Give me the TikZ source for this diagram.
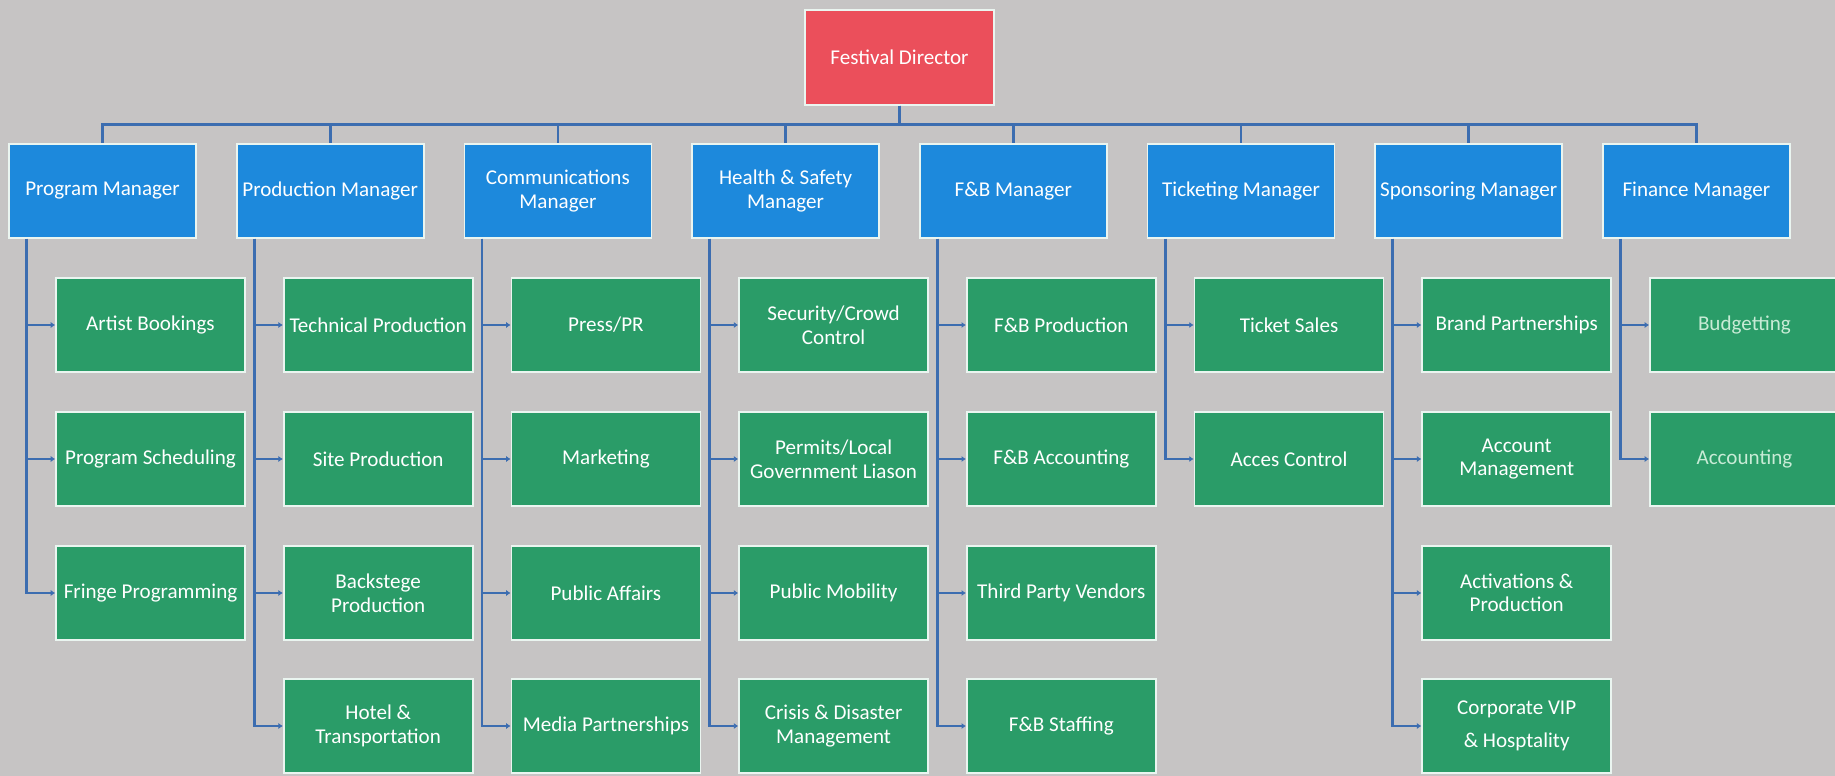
\documentclass[tikz,border=0pt]{standalone}
\usepackage{fontspec}
\setmainfont{Carlito}
\usetikzlibrary{arrows.meta}
\definecolor{bgray}{HTML}{C6C4C4}
\definecolor{dirred}{HTML}{EB4F5B}
\definecolor{mgrblue}{HTML}{1D89DC}
\definecolor{teamgreen}{HTML}{2A9C68}
\definecolor{linkblue}{HTML}{3C6DB0}
\definecolor{fadetext}{HTML}{C8EBD6}
\begin{document}
\begin{tikzpicture}[x=0.02cm,y=-0.02cm,
	box/.style={draw=white!90!teamgreen,line width=1pt,text=white,align=center,inner sep=0pt,minimum height=1.88cm,font=\fontsize{12}{13.4}\selectfont},
	director/.style={box,fill=dirred,minimum width=3.78cm,minimum height=1.9cm},
	manager/.style={box,fill=mgrblue,minimum width=3.74cm},
	team/.style={box,fill=teamgreen,minimum width=3.78cm},
	link/.style={draw=linkblue,line width=1.6pt},
	feed/.style={link,-{Latex[length=2.5pt,width=3.5pt]}}]
	\useasboundingbox (0,0) rectangle (1835,776);
	\fill[bgray] (0,0) rectangle (1835,776);
	\node[director] (dir) at (899.5,57.5) {Festival Director};
	\node[manager] (prog) at (102.5,191) {Program Manager};
	\node[manager] (prod) at (330.2,191) {Production Manager};
	\node[manager] (comm) at (557.9,191) {Communications\\Manager};
	\node[manager] (hs) at (785.6,191) {Health \& Safety\\Manager};
	\node[manager] (fb) at (1013.3,191) {F\&B Manager};
	\node[manager] (tick) at (1241,191) {Ticketing Manager};
	\node[manager] (spon) at (1468.7,191) {Sponsoring Manager};
	\node[manager] (fin) at (1696.4,191) {Finance Manager};
	\node[team] (artist) at (150.5,325) {Artist Bookings};
	\node[team] (sched) at (150.5,459) {Program Scheduling};
	\node[team] (fringe) at (150.5,593) {Fringe Programming};
	\node[team] (tech) at (378.2,325) {Technical Production};
	\node[team] (site) at (378.2,459) {Site Production};
	\node[team] (backstage) at (378.2,593) {Backstege\\Production};
	\node[team] (hotel) at (378.2,726) {Hotel \&\\Transportation};
	\node[team] (press) at (605.9,325) {Press/PR};
	\node[team] (marketing) at (605.9,459) {Marketing};
	\node[team] (affairs) at (605.9,593) {Public Affairs};
	\node[team] (media) at (605.9,726) {Media Partnerships};
	\node[team] (security) at (833.6,325) {Security/Crowd\\Control};
	\node[team] (permits) at (833.6,459) {Permits/Local\\Government Liason};
	\node[team] (mobility) at (833.6,593) {Public Mobility};
	\node[team] (crisis) at (833.6,726) {Crisis \& Disaster\\Management};
	\node[team] (fbprod) at (1061.3,325) {F\&B Production};
	\node[team] (fbacc) at (1061.3,459) {F\&B Accounting};
	\node[team] (vendors) at (1061.3,593) {Third Party Vendors};
	\node[team] (staffing) at (1061.3,726) {F\&B Staffing};
	\node[team] (sales) at (1289,325) {Ticket Sales};
	\node[team] (access) at (1289,459) {Acces Control};
	\node[team] (brand) at (1516.7,325) {Brand Partnerships};
	\node[team] (account) at (1516.7,459) {Account\\Management};
	\node[team] (activ) at (1516.7,593) {Activations \&\\Production};
	\node[team] (vip) at (1516.7,726) {Corporate VIP\\[5pt]\& Hosptality};
	\node[team,text=fadetext] (budget) at (1744.4,325) {Budgetting};
	\node[team,text=fadetext] (accounting) at (1744.4,459) {Accounting};
	\foreach \m in {prog,prod,comm,hs,fb,tick,spon,fin}
		\draw[link] (dir.south) -- ++(0,19) -| (\m.north);
	\foreach \m/\t in {prog/artist,prog/sched,prog/fringe,
		prod/tech,prod/site,prod/backstage,prod/hotel,
		comm/press,comm/marketing,comm/affairs,comm/media,
		hs/security,hs/permits,hs/mobility,hs/crisis,
		fb/fbprod,fb/fbacc,fb/vendors,fb/staffing,
		tick/sales,tick/access,
		spon/brand,spon/account,spon/activ,spon/vip,
		fin/budget,fin/accounting}
		\draw[feed] ([xshift=0.37cm]\m.south west) |- (\t.west);
\end{tikzpicture}
\end{document}
